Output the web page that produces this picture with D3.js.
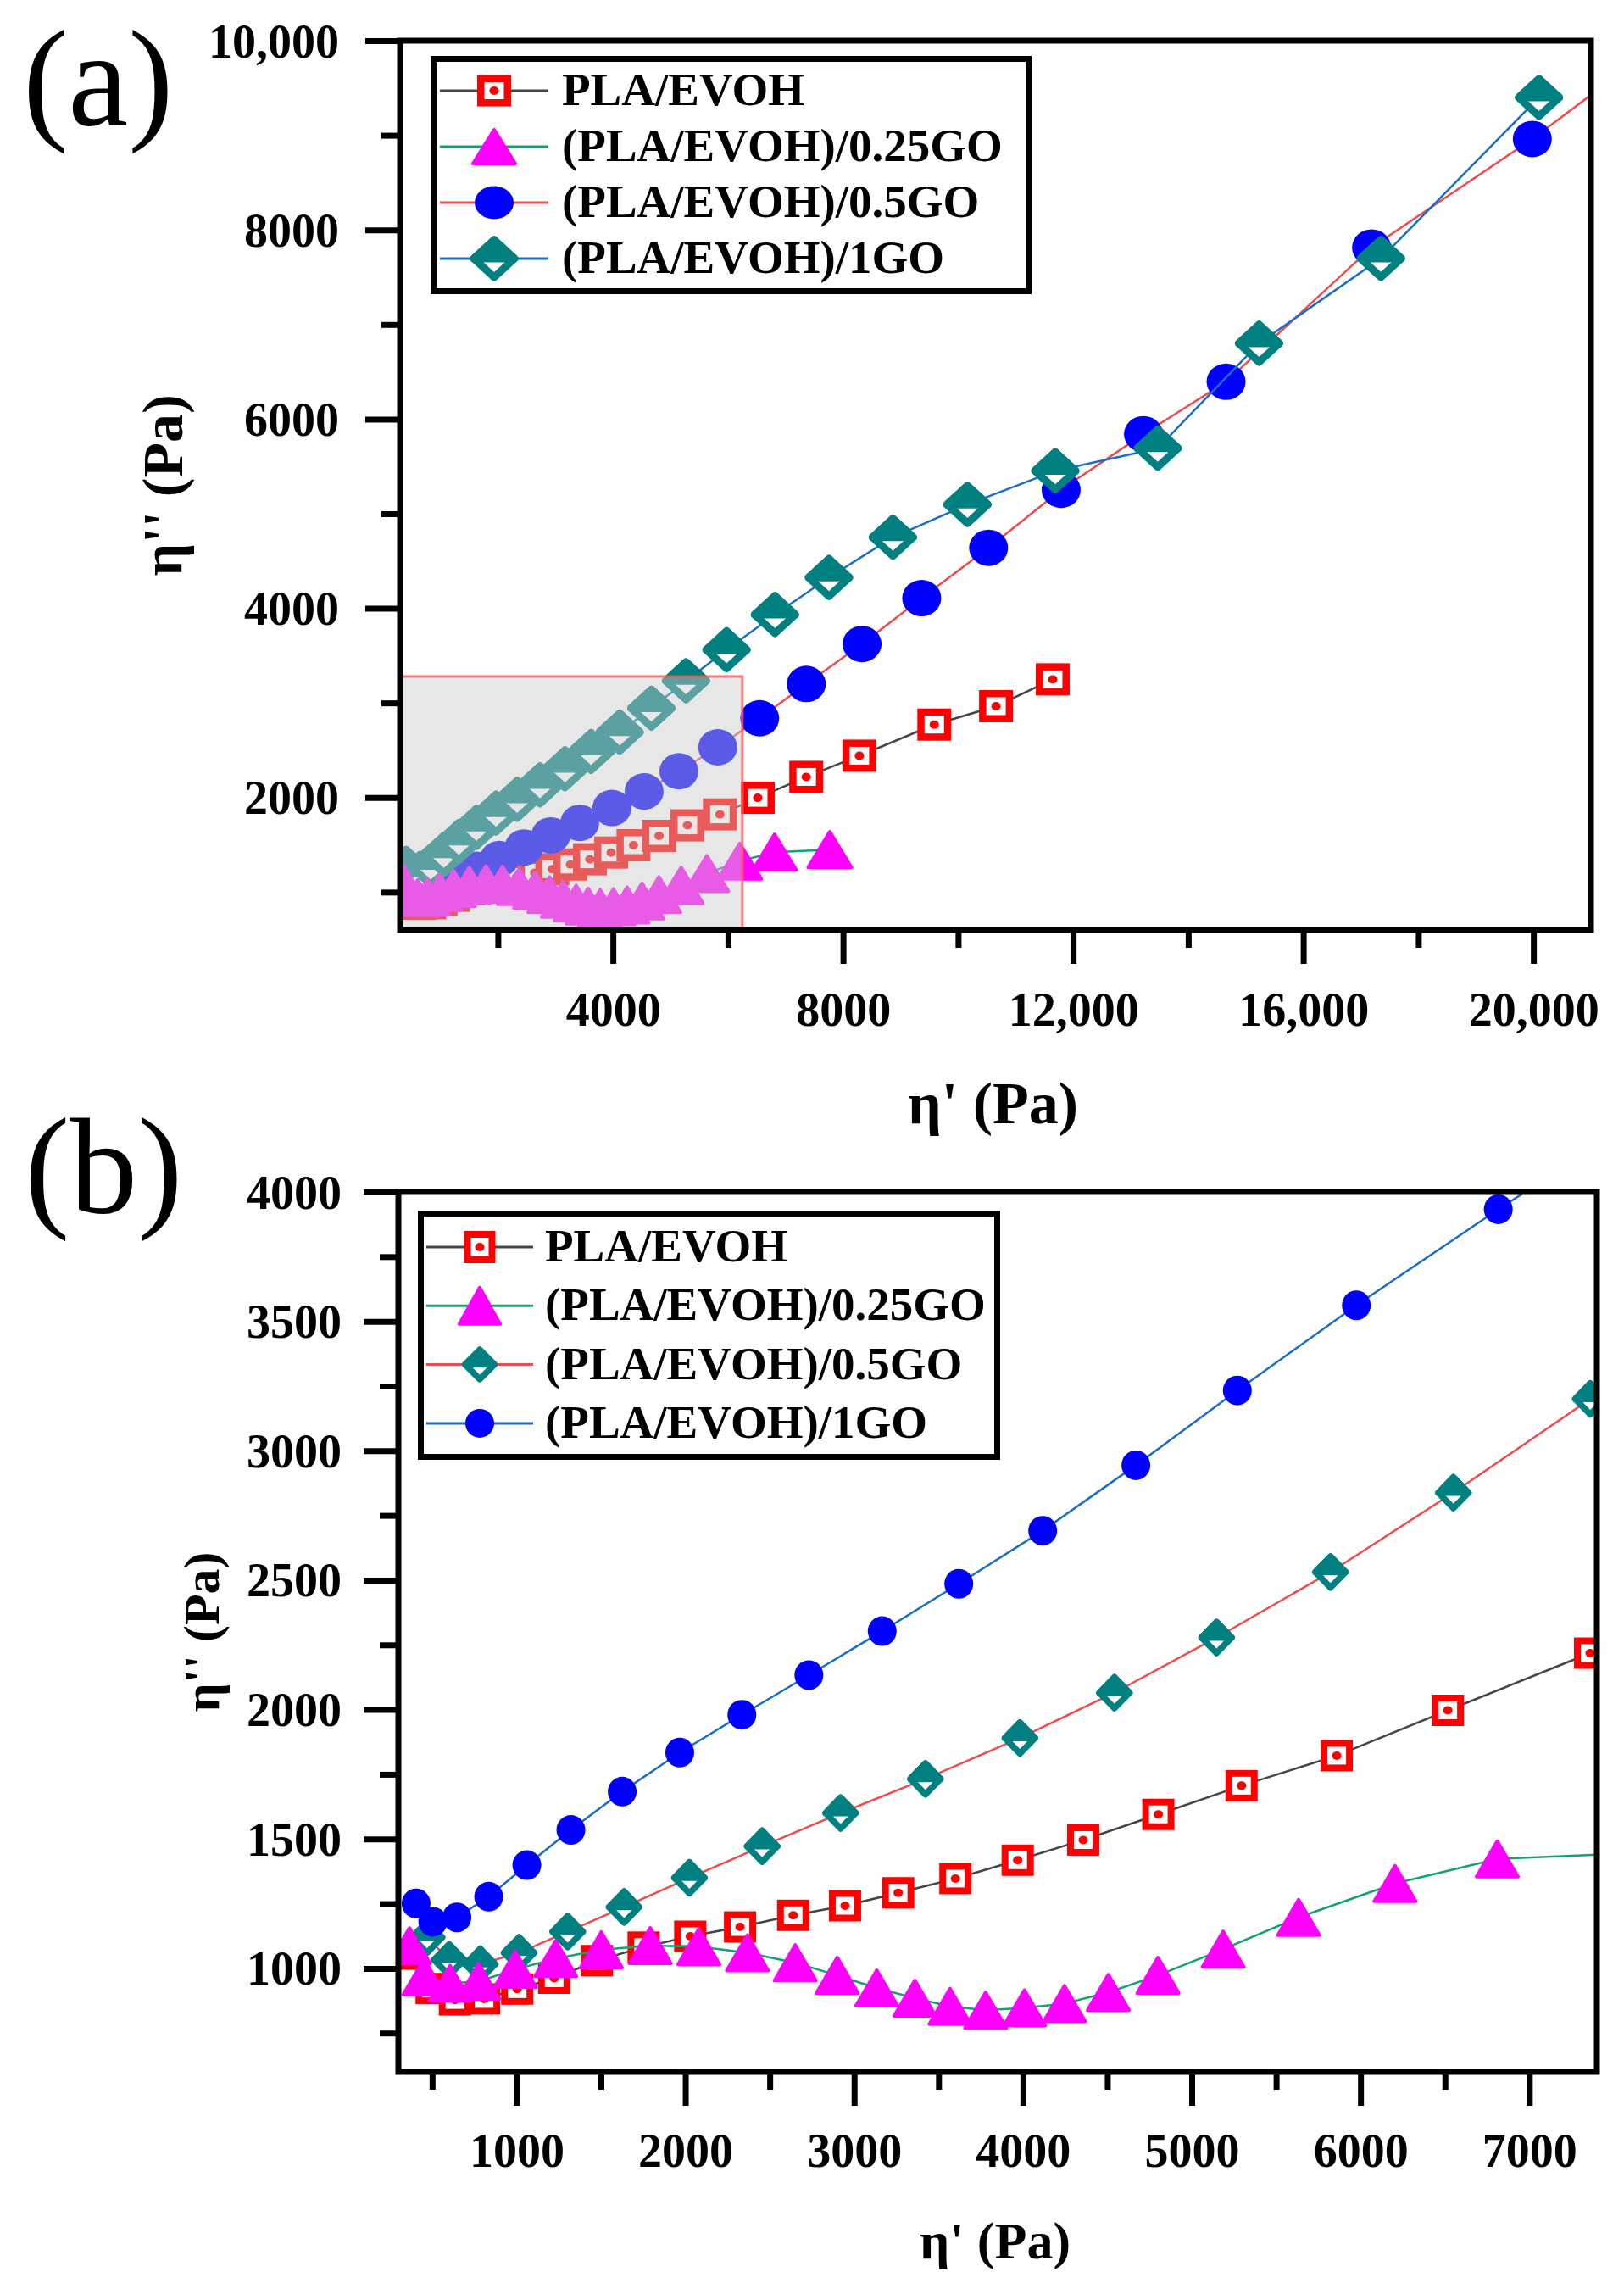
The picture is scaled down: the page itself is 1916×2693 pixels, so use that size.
<!DOCTYPE html>
<html>
<head>
<meta charset="utf-8">
<script src="https://cdn.jsdelivr.net/npm/d3@7"></script>
<style>
body { margin: 0; background: #fff; }
text { font-family: "Liberation Serif", "Times New Roman", serif; }
</style>
</head>
<body>
<div id="chart"></div>
<script>
// values (eta' / eta'' in Pa)
const seriesNames = ["PLA/EVOH", "(PLA/EVOH)/0.25GO", "(PLA/EVOH)/0.5GO", "(PLA/EVOH)/1GO"];

const plaX = [370, 497, 635, 808, 1004, 1223, 1476, 1753, 2029, 2324, 2639, 2946, 3261, 3600, 3969, 4357, 4802, 5295, 5859, 6517, 7360, 8284, 9586, 10659, 11644];
const plaY = [1055, 922, 878, 882, 920, 962, 1030, 1082, 1124, 1160, 1205, 1242, 1292, 1347, 1418, 1496, 1595, 1706, 1822, 1997, 2218, 2442, 2771, 2966, 3249];

const go025X = [366, 452, 606, 776, 993, 1232, 1502, 1792, 2080, 2368, 2651, 2900, 3134, 3360, 3568, 3779, 4009, 4246, 4506, 4800, 5186, 5633, 6204, 6810, 7770];
const go025Y = [1087, 968, 942, 950, 996, 1038, 1072, 1088, 1084, 1060, 1022, 973, 924, 885, 853, 838, 847, 864, 907, 973, 1074, 1197, 1328, 1423, 1450];

const go05X = [470, 601, 785, 1015, 1303, 1637, 2024, 2455, 2920, 3422, 3982, 4542, 5147, 5822, 6550, 7361, 8330, 9367, 10529, 11791, 13222, 14658, 17187, 19981, 22800];
const go05Y = [1120, 1033, 1016, 1060, 1142, 1237, 1350, 1472, 1600, 1732, 1890, 2065, 2278, 2531, 2838, 3200, 3623, 4108, 4640, 5253, 5841, 6395, 7814, 8961, 10247];

const go1X = [405, 504, 647, 835, 1061, 1322, 1626, 1967, 2335, 2732, 3166, 3620, 4117, 4669, 5270, 5975, 6816, 7755, 8866, 10162, 11689, 13470, 15231, 17349, 20097];
const go1Y = [1251, 1180, 1197, 1277, 1399, 1535, 1683, 1834, 1980, 2133, 2303, 2486, 2691, 2944, 3233, 3562, 3933, 4326, 4751, 5097, 5453, 5692, 6801, 7698, 9400];

// axis ticks
const xTicksA = [4000, 8000, 12000, 16000, 20000];
const xMinorA = [2000, 6000, 10000, 14000, 18000];
const yTicksA = [2000, 4000, 6000, 8000, 10000];
const yMinorA = [1000, 3000, 5000, 7000, 9000];
const xTicksB = [1000, 2000, 3000, 4000, 5000, 6000, 7000];
const xMinorB = [500, 1500, 2500, 3500, 4500, 5500, 6500];
const yTicksB = [1000, 1500, 2000, 2500, 3000, 3500, 4000];
const yMinorB = [750, 1250, 1750, 2250, 2750, 3250, 3750];

// grey zoom window drawn on panel (a)
const boxX = [300, 6250];
const boxY = [600, 3280];

const seriesX = [plaX, go025X, go05X, go1X];
const seriesY = [plaY, go025Y, go05Y, go1Y];
const lineColors = ["#454545", "#12a076", "#f24a4a", "#1b6dc6"];
const drawOrder = [0, 2, 3, 1];

const W = 1916, H = 2693;
const svg = d3.select("#chart").append("svg")
    .attr("width", W)
    .attr("height", H)
    .attr("viewBox", `0 0 ${W} ${H}`);

svg.append("rect").attr("width", W).attr("height", H).attr("fill", "#fff");

const fmt = v => v >= 10000 ? d3.format(",")(v) : String(v);

function addMarker(g, type, st) {
    if (type === "square") {
        g.append("rect")
            .attr("x", -st.w / 2 + st.s / 2).attr("y", -st.h / 2 + st.s / 2)
            .attr("width", st.w - st.s).attr("height", st.h - st.s)
            .attr("fill", "#fff").attr("stroke", "#ff0000").attr("stroke-width", st.s);
        g.append("ellipse").attr("rx", 5.5).attr("ry", 5).attr("fill", "#ff0000");
    } else if (type === "triangle") {
        const hw = st.w / 2 - 2, hh = st.h / 2 - 2;
        g.append("path")
            .attr("d", `M0,${-hh}L${hw},${hh}L${-hw},${hh}Z`)
            .attr("fill", "#ff00ff").attr("stroke", "#ff00ff")
            .attr("stroke-width", 4).attr("stroke-linejoin", "round");
    } else if (type === "circle") {
        g.append("ellipse").attr("rx", st.rx).attr("ry", st.ry).attr("fill", "#0000ff");
    } else {
        const hw = st.w / 2 - st.s / 2, hh = st.h / 2 - st.s / 2;
        g.append("path")
            .attr("d", `M0,${-hh}L${hw},0L0,${hh}L${-hw},0Z`)
            .attr("fill", "#fff").attr("stroke", "#008080")
            .attr("stroke-width", st.s).attr("stroke-linejoin", "round");
        g.append("path")
            .attr("d", `M${-hw},0L0,${-hh}L${hw},0Z`)
            .attr("fill", "#008080").attr("stroke", "#008080")
            .attr("stroke-width", st.s).attr("stroke-linejoin", "round");
    }
}

function drawPanel(p) {
    const x = d3.scaleLinear().domain(p.xDomain).range(p.xRange);
    const y = d3.scaleLinear().domain(p.yDomain).range(p.yRange);
    const root = svg.append("g");

    root.append("clipPath").attr("id", p.id + "-clip")
        .append("rect")
        .attr("x", p.xRange[0]).attr("y", p.yRange[1])
        .attr("width", p.xRange[1] - p.xRange[0])
        .attr("height", p.yRange[0] - p.yRange[1]);

    const plot = root.append("g").attr("clip-path", `url(#${p.id}-clip)`);

    drawOrder.forEach(i => {
        const pts = seriesX[i].map((v, k) => [v, seriesY[i][k]]);
        const sg = plot.append("g");
        sg.append("path")
            .datum(pts)
            .attr("fill", "none")
            .attr("stroke", lineColors[i])
            .attr("stroke-width", 2.5)
            .attr("d", d3.line().x(d => x(d[0])).y(d => y(d[1])));
        sg.selectAll("g.pt").data(pts).enter().append("g")
            .attr("class", "pt")
            .attr("transform", d => `translate(${x(d[0])},${y(d[1])})`)
            .each(function () { addMarker(d3.select(this), p.markers[i], p.styles[p.markers[i]]); });
    });

    if (p.box) {
        plot.append("rect")
            .attr("x", x(boxX[0])).attr("y", y(boxY[1]))
            .attr("width", x(boxX[1]) - x(boxX[0]))
            .attr("height", y(boxY[0]) - y(boxY[1]))
            .attr("fill", "#c9c9c9").attr("fill-opacity", 0.45)
            .attr("stroke", "#ff5a5a").attr("stroke-opacity", 0.8).attr("stroke-width", 3);
    }

    // axes
    const styleAxis = (g) => {
        g.select(".domain").remove();
        g.selectAll(".tick line").attr("stroke", "#000").attr("stroke-width", 7);
        g.selectAll("text").attr("fill", "#000")
            .attr("font-family", "'Liberation Serif', serif")
            .attr("font-weight", "bold").attr("font-size", 56);
    };

    root.append("g").attr("transform", `translate(0,${p.yRange[0]})`)
        .call(d3.axisBottom(x).tickValues(p.xMinor).tickSize(21).tickFormat(""))
        .call(styleAxis);
    root.append("g").attr("transform", `translate(0,${p.yRange[0]})`)
        .call(d3.axisBottom(x).tickValues(p.xTicks).tickSize(40).tickFormat(fmt))
        .call(styleAxis)
        .selectAll("text").attr("y", p.xLabelOffset).attr("dy", 0);

    root.append("g").attr("transform", `translate(${p.xRange[0]},0)`)
        .call(d3.axisLeft(y).tickValues(p.yMinor).tickSize(22).tickFormat(""))
        .call(styleAxis);
    root.append("g").attr("transform", `translate(${p.xRange[0]},0)`)
        .call(d3.axisLeft(y).tickValues(p.yTicks).tickSize(41).tickFormat(fmt))
        .call(styleAxis)
        .selectAll("text").attr("x", -p.yLabelOffset).attr("dy", "0.34em");

    // frame
    root.append("rect")
        .attr("x", p.xRange[0]).attr("y", p.yRange[1])
        .attr("width", p.xRange[1] - p.xRange[0])
        .attr("height", p.yRange[0] - p.yRange[1])
        .attr("fill", "none").attr("stroke", "#000").attr("stroke-width", 7);

    // axis titles
    root.append("text")
        .attr("x", (p.xRange[0] + p.xRange[1]) / 2 - 3)
        .attr("y", p.xTitleY)
        .attr("text-anchor", "middle")
        .attr("font-weight", "bold").attr("font-size", p.xTitleSize)
        .text("η' (Pa)");
    root.append("text")
        .attr("transform", `translate(${p.yTitleX},${(p.yRange[0] + p.yRange[1]) / 2}) rotate(-90)`)
        .attr("text-anchor", "middle")
        .attr("font-weight", "bold").attr("font-size", p.yTitleSize)
        .text("η'' (Pa)");

    // panel letter
    root.append("text")
        .attr("x", p.letterX).attr("y", p.letterY)
        .attr("font-size", 160)
        .text(p.letter);

    // legend
    const lg = root.append("g");
    lg.append("rect")
        .attr("x", p.legend.x0 + 3.5).attr("y", p.legend.y0 + 3.5)
        .attr("width", p.legend.x1 - p.legend.x0 - 7)
        .attr("height", p.legend.y1 - p.legend.y0 - 7)
        .attr("fill", "#fff").attr("stroke", "#000").attr("stroke-width", 7);
    seriesNames.forEach((name, i) => {
        const cy = p.legend.row0 + i * p.legend.step;
        lg.append("line")
            .attr("x1", p.legend.lineX[0]).attr("x2", p.legend.lineX[1])
            .attr("y1", cy).attr("y2", cy)
            .attr("stroke", lineColors[i]).attr("stroke-width", 3);
        const m = lg.append("g").attr("transform", `translate(${(p.legend.lineX[0] + p.legend.lineX[1]) / 2},${cy})`);
        addMarker(m, p.markers[i], p.legendStyles[p.markers[i]]);
        lg.append("text")
            .attr("x", p.legend.textX).attr("y", cy + 17)
            .attr("font-weight", "bold").attr("font-size", 55)
            .text(name);
    });
}

drawPanel({
    id: "pa",
    xDomain: [300, 21000], xRange: [472, 1877],
    yDomain: [600, 10000], yRange: [1097, 48],
    xTicks: xTicksA, xMinor: xMinorA, yTicks: yTicksA, yMinor: yMinorA,
    xLabelOffset: 113, yLabelOffset: 72,
    xTitleY: 1325, xTitleSize: 70, yTitleX: 215, yTitleSize: 68,
    letter: "(a)", letterX: 27, letterY: 147,
    box: true,
    markers: ["square", "triangle", "circle", "diamond"],
    styles: {
        square: { w: 40, h: 38, s: 8.5 },
        triangle: { w: 55, h: 46 },
        circle: { rx: 23, ry: 21.5 },
        diamond: { w: 57, h: 53, s: 9 }
    },
    legendStyles: {
        square: { w: 40, h: 37, s: 8.5 },
        triangle: { w: 54, h: 44 },
        circle: { rx: 23, ry: 19.5 },
        diamond: { w: 57, h: 53, s: 9 }
    },
    legend: { x0: 508, x1: 1217, y0: 66, y1: 347, row0: 107, step: 66, lineX: [519, 647], textX: 663 }
});

drawPanel({
    id: "pb",
    xDomain: [300, 7400], xRange: [470, 1884],
    yDomain: [600, 4000], yRange: [2444, 1406],
    xTicks: xTicksB, xMinor: xMinorB, yTicks: yTicksB, yMinor: yMinorB,
    xLabelOffset: 112, yLabelOffset: 67,
    xTitleY: 2664, xTitleSize: 62, yTitleX: 258, yTitleSize: 60,
    letter: "(b)", letterX: 29, letterY: 1430,
    box: false,
    markers: ["square", "triangle", "diamond", "circle"],
    styles: {
        square: { w: 38, h: 37, s: 8 },
        triangle: { w: 53, h: 46 },
        circle: { rx: 17, ry: 17.5 },
        diamond: { w: 43, h: 44, s: 7.5 }
    },
    legendStyles: {
        square: { w: 37, h: 38, s: 8 },
        triangle: { w: 52, h: 47 },
        circle: { rx: 17, ry: 17 },
        diamond: { w: 42, h: 42, s: 7.5 }
    },
    legend: { x0: 493, x1: 1180, y0: 1428, y1: 1722, row0: 1471, step: 69.3, lineX: [503, 629], textX: 643 }
});
</script>
</body>
</html>
